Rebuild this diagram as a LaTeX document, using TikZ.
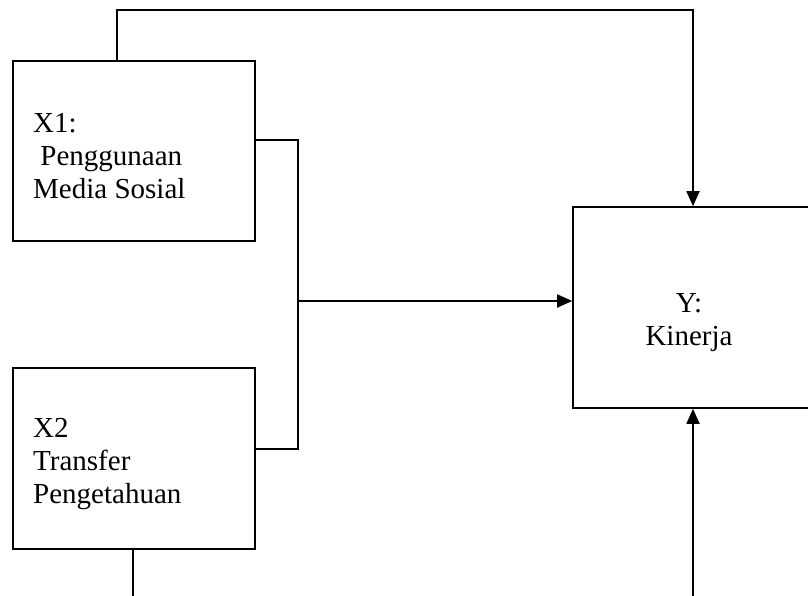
\documentclass[tikz,border=0pt]{standalone}
\usepackage{fontspec}
\setmainfont{Liberation Serif}
\usetikzlibrary{arrows.meta}

\begin{document}
\begin{tikzpicture}[x=1pt, y=-1pt,
		box/.style={draw, line width=1.6pt, inner sep=0pt},
		lbl/.style={inner sep=0pt, font=\fontsize{29}{33}\selectfont},
		link/.style={line width=1.8pt},
		arr/.style={link, -{Triangle[length=15pt, width=13pt]}}]

		\useasboundingbox (0,0) rectangle (808,596);
		\clip (0,0) rectangle (808,596);

		% Boxes
		\node[box, minimum width=242pt, minimum height=180pt] (x1) at (134,151) {};
		\node[box, minimum width=242pt, minimum height=181pt] (x2) at (134,458.5) {};
		\node[box, minimum width=240pt, minimum height=201pt] (y) at (693,307.5) {};

		% Labels
		\node[lbl, anchor=north west, align=left] (x1lbl) at (33,113) {X1:\\\ Penggunaan\\Media Sosial};
		\node[lbl, anchor=north west, align=left] (x2lbl) at (33,418) {X2\\Transfer\\Pengetahuan};
		\node[lbl, anchor=north, align=center] (ylbl) at (689,293) {Y:\\Kinerja};

		% Connectors
		\coordinate (jn) at (298,301);
		\coordinate (x2end) at (133,596);
		\coordinate (yend) at (693,596);
		\draw[arr] ([xshift=-17pt]x1.north) -- ++(0,-50) -| (y.north);
		\draw[link] ([yshift=11pt]x1.east) -| (jn) |- ([yshift=9.5pt]x2.east);
		\draw[arr] (jn) -- (jn -| y.west);
		\draw[link] (x2end |- x2.south) -- (x2end);
		\draw[arr] (yend) -- (y.south);

	\end{tikzpicture}
\end{document}
